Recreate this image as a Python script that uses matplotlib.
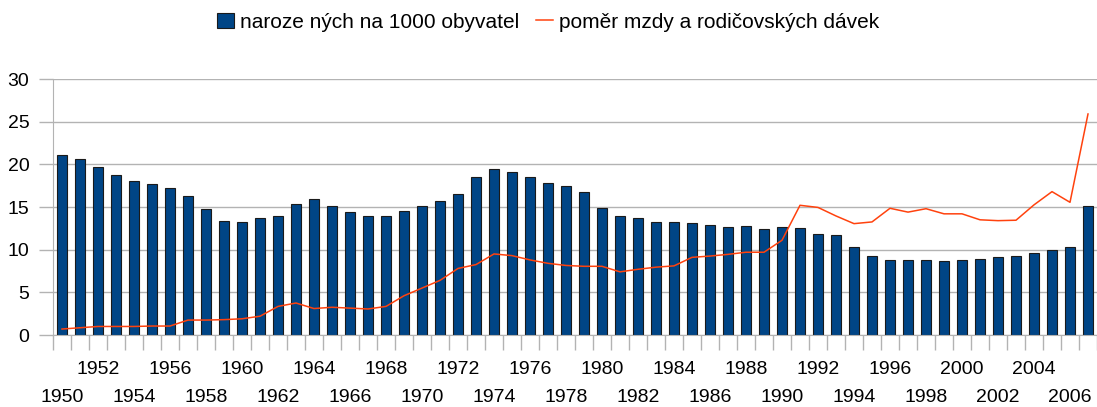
import numpy as np
import matplotlib

matplotlib.use('Agg')
import matplotlib.pyplot as plt
import matplotlib.transforms as mtransforms

plt.rcParams['font.family'] = ['Liberation Sans', 'DejaVu Sans']

# data
years = list(range(1950, 2008))
births = [21.1, 20.6, 19.7, 18.7, 18.1, 17.7, 17.2, 16.3, 14.8, 13.4,
          13.3, 13.7, 13.9, 15.4, 15.9, 15.1, 14.4, 14.0, 13.9, 14.5,
          15.1, 15.7, 16.5, 18.5, 19.4, 19.1, 18.5, 17.8, 17.5, 16.7,
          14.9, 14.0, 13.7, 13.3, 13.3, 13.1, 12.9, 12.7, 12.8, 12.4,
          12.6, 12.5, 11.8, 11.7, 10.3, 9.3, 8.8, 8.8, 8.8, 8.7,
          8.8, 8.9, 9.1, 9.2, 9.6, 10.0, 10.3, 15.1]
ratio = [0.7, 0.85, 1.0, 1.0, 1.0, 1.05, 1.05, 1.75, 1.75, 1.8,
         1.9, 2.2, 3.35, 3.75, 3.1, 3.25, 3.15, 3.05, 3.35, 4.6,
         5.5, 6.4, 7.8, 8.25, 9.5, 9.3, 8.8, 8.4, 8.15, 8.05,
         8.05, 7.4, 7.7, 7.95, 8.1, 9.1, 9.25, 9.45, 9.7, 9.7,
         11.1, 15.2, 14.95, 13.95, 13.05, 13.25, 14.85, 14.4, 14.8, 14.2,
         14.2, 13.5, 13.4, 13.45, 15.25, 16.8, 15.55, 25.9]
label_births = 'naroze ných na 1000 obyvatel'
label_ratio = 'poměr mzdy a rodičovských dávek'

fig = plt.figure(figsize=(10.97, 4.07), dpi=100)
ax = fig.add_axes([53 / 1097, 72 / 407, 1044 / 1097, 256 / 407])

x = np.arange(len(years))
bars = ax.bar(x, births, width=0.56, color='#004586', edgecolor='#1a1a1a',
              linewidth=0.8, label=label_births, zorder=2)
line, = ax.plot(x, ratio, color='#ff420e', linewidth=1.1, label=label_ratio, zorder=3)

ax.set_xlim(-0.5, len(years) - 0.5)
ax.set_ylim(0, 30)
ax.set_yticks(range(0, 31, 5))
ax.grid(axis='y', color='#b3b3b3', linewidth=1, zorder=0)

# category boundary ticks, no major labels
ax.set_xticks([])
ax.set_xticks(np.arange(-0.5, len(years), 1), minor=True)
ax.tick_params(axis='x', which='minor', length=11, color='#b3b3b3', width=1)
ax.tick_params(axis='y', length=10, color='#b3b3b3', width=1, pad=7, labelsize=14)

# staggered year labels (every 2nd year, alternating rows)
trans = mtransforms.blended_transform_factory(ax.transData, ax.transAxes)
for i, yr in enumerate(years):
    if yr % 2:
        continue
    ypos = -0.133 if yr % 4 == 0 else -0.243
    ax.text(i, ypos, str(yr), transform=trans, ha='center', va='center', fontsize=14)

for s in ['top', 'right']:
    ax.spines[s].set_visible(False)
for s in ['left', 'bottom']:
    ax.spines[s].set_color('#b3b3b3')

fig.legend([bars, line], [label_births, label_ratio], loc='upper center',
           bbox_to_anchor=(0.5, 1.015), ncol=2, frameon=False, fontsize=15,
           handlelength=0.8, handletextpad=0.3, columnspacing=0.8)

plt.savefig('out.png', dpi=100)
plt.close()
